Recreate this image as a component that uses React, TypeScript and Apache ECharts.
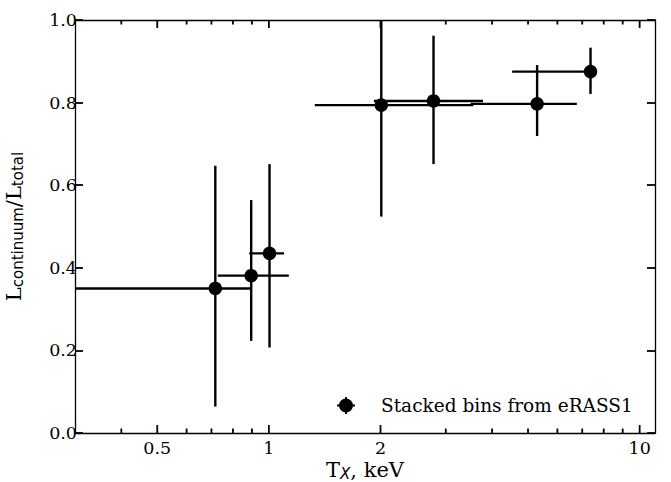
import React, { useEffect, useRef } from 'react';
import * as echarts from 'echarts';

// Stacked eRASS1 bins: temperature (keV) with x-range and continuum fraction with errors
const temperatureKeV = [0.717, 0.896, 1.004, 2.01, 2.78, 5.29, 7.37];
const temperatureLow = [0.25, 0.728, 0.885, 1.33, 1.92, 3.5, 4.53];
const temperatureHigh = [0.895, 1.132, 1.099, 3.56, 3.78, 6.77, 7.37];
const continuumFraction = [0.35, 0.381, 0.435, 0.794, 0.804, 0.797, 0.875];
const fractionLow = [0.064, 0.223, 0.207, 0.524, 0.651, 0.719, 0.821];
const fractionHigh = [0.647, 0.564, 0.651, 1.08, 0.962, 0.891, 0.933];

const xMajorTicks = [0.5, 1, 2, 10];
const xMajorLabels = ['0.5', '1', '2', '10'];
const xMinorTicks = [0.4, 0.6, 0.7, 0.8, 0.9, 3, 4, 5, 6, 7, 8, 9];
const yTicks = [0, 0.2, 0.4, 0.6, 0.8, 1.0];

const SERIF = '"DejaVu Serif", serif';
const SANS = '"DejaVu Sans", sans-serif';
const LEGEND_NAME = 'Stacked bins from eRASS1';

export default function App() {
  const ref = useRef<HTMLDivElement>(null);

  useEffect(() => {
    if (!ref.current) return;
    const chart = echarts.init(ref.current, null, { renderer: 'svg' });

    const errorData = temperatureKeV.map((t, i) => [
      t, continuumFraction[i], temperatureLow[i], temperatureHigh[i], fractionLow[i], fractionHigh[i],
    ]);
    const pointData = temperatureKeV.map((t, i) => [t, continuumFraction[i]]);
    const tickData = [
      ...xMajorTicks.map((v, i) => [v, 0, 1, i]),
      ...xMinorTicks.map((v) => [v, 0, 0, -1]),
    ];

    const axisLineStyle = { color: '#000', width: 1.3 };
    const titleRich = {
      m: { fontFamily: SERIF, fontSize: 21, lineHeight: 21, verticalAlign: 'top', color: '#000' },
      s: { fontFamily: SANS, fontSize: 15, lineHeight: 22, verticalAlign: 'bottom', color: '#000' },
      si: { fontFamily: SANS, fontStyle: 'italic', fontSize: 15, lineHeight: 22, verticalAlign: 'bottom', color: '#000' },
    };

    chart.setOption({
      animation: false,
      backgroundColor: '#fff',
      grid: { left: 75, right: 16, top: 20, bottom: 49, containLabel: false, outerBoundsMode: 'none' },
      legend: {
        data: [
          {
            name: LEGEND_NAME,
            icon:
              'path://M0,0L0.05,0L0.05,0.05Z M60,17L59.95,17L59.95,16.95Z M29,0h2v17h-2z M21,7.5h18v2h-18z M37,8.5a7,7 0 1,1 -14,0a7,7 0 1,1 14,0z',
          },
        ],
        left: 316,
        top: 396,
        padding: 0,
        itemWidth: 60,
        itemHeight: 17,
        itemGap: 5,
        textStyle: { fontFamily: SERIF, fontSize: 18.5, color: '#000' },
      },
      xAxis: [
        {
          type: 'log',
          logBase: 10,
          min: 0.3,
          max: 11,
          axisLine: { show: true, onZero: false, lineStyle: axisLineStyle },
          axisTick: { show: false },
          axisLabel: { show: false },
          splitLine: { show: false },
          name: '{m|T}{si|X}{m|, keV}',
          nameLocation: 'middle',
          nameGap: 26,
          nameTextStyle: { rich: titleRich },
        },
        {
          type: 'log',
          logBase: 10,
          position: 'top',
          min: 0.3,
          max: 11,
          axisLine: { show: true, onZero: false, lineStyle: axisLineStyle },
          axisTick: { show: false },
          axisLabel: { show: false },
          splitLine: { show: false },
        },
      ],
      yAxis: [
        {
          type: 'value',
          min: 0,
          max: 1,
          interval: 0.2,
          axisLine: { show: true, onZero: false, lineStyle: axisLineStyle },
          axisTick: { show: true, inside: true, length: 8, lineStyle: { color: '#000', width: 1.8 }, customValues: yTicks },
          axisLabel: {
            customValues: yTicks,
            formatter: (v: number) => v.toFixed(1),
            fontFamily: SERIF,
            fontSize: 17.5,
            color: '#000',
            margin: -2,
          },
          splitLine: { show: false },
          name: '{m|L}{s|continuum}{m|/L}{s|total}',
          nameLocation: 'middle',
          nameRotate: 90,
          nameGap: 50,
          nameTextStyle: { rich: titleRich },
        },
        {
          type: 'value',
          position: 'right',
          min: 0,
          max: 1,
          interval: 0.2,
          axisLine: { show: true, onZero: false, lineStyle: axisLineStyle },
          axisTick: { show: true, inside: true, length: 8, lineStyle: { color: '#000', width: 1.8 }, customValues: yTicks },
          axisLabel: { show: false },
          splitLine: { show: false },
        },
      ],
      series: [
        {
          type: 'custom',
          name: 'xticks',
          xAxisIndex: 0,
          yAxisIndex: 0,
          silent: true,
          z: 5,
          data: tickData,
          renderItem: (params: any, api: any) => {
            const v = api.value(0);
            const major = api.value(2) === 1;
            const idx = api.value(3);
            const bottom = api.coord([v, 0]);
            const top = api.coord([v, 1]);
            const len = major ? 8 : 4.5;
            const stroke = { stroke: '#000', lineWidth: 1.8 };
            const children: any[] = [
              { type: 'line', shape: { x1: bottom[0], y1: bottom[1], x2: bottom[0], y2: bottom[1] - len }, style: stroke },
              { type: 'line', shape: { x1: top[0], y1: top[1], x2: top[0], y2: top[1] + len }, style: stroke },
            ];
            if (major && idx >= 0) {
              children.push({
                type: 'text',
                x: bottom[0],
                y: bottom[1] + 6,
                style: {
                  text: xMajorLabels[idx],
                  fill: '#000',
                  fontFamily: SERIF,
                  fontSize: 17.5,
                  align: 'center',
                  verticalAlign: 'top',
                },
              });
            }
            return { type: 'group', children };
          },
        },
        {
          type: 'custom',
          name: 'errors',
          xAxisIndex: 0,
          yAxisIndex: 0,
          silent: true,
          z: 2,
          data: errorData,
          renderItem: (params: any, api: any) => {
            const cs = params.coordSys;
            const cx = (p: number) => Math.max(cs.x, Math.min(cs.x + cs.width, p));
            const cy = (p: number) => Math.max(cs.y, Math.min(cs.y + cs.height, p));
            const x = api.value(0);
            const y = api.value(1);
            const pl = api.coord([api.value(2), y]);
            const pr = api.coord([api.value(3), y]);
            const pb = api.coord([x, api.value(4)]);
            const pt = api.coord([x, api.value(5)]);
            const style = { stroke: '#000', lineWidth: 2.4 };
            return {
              type: 'group',
              children: [
                { type: 'line', shape: { x1: cx(pl[0]), y1: pl[1], x2: cx(pr[0]), y2: pr[1] }, style },
                { type: 'line', shape: { x1: pb[0], y1: cy(pb[1]), x2: pt[0], y2: cy(pt[1]) }, style },
              ],
            };
          },
        },
        {
          type: 'scatter',
          name: LEGEND_NAME,
          xAxisIndex: 0,
          yAxisIndex: 0,
          symbol: 'circle',
          symbolSize: 13.5,
          itemStyle: { color: '#000', opacity: 1 },
          z: 3,
          data: pointData,
        },
      ],
    });

    return () => chart.dispose();
  }, []);

  return <div ref={ref} style={{ position: 'fixed', left: 0, top: 0, width: 671, height: 482 }} />;
}
